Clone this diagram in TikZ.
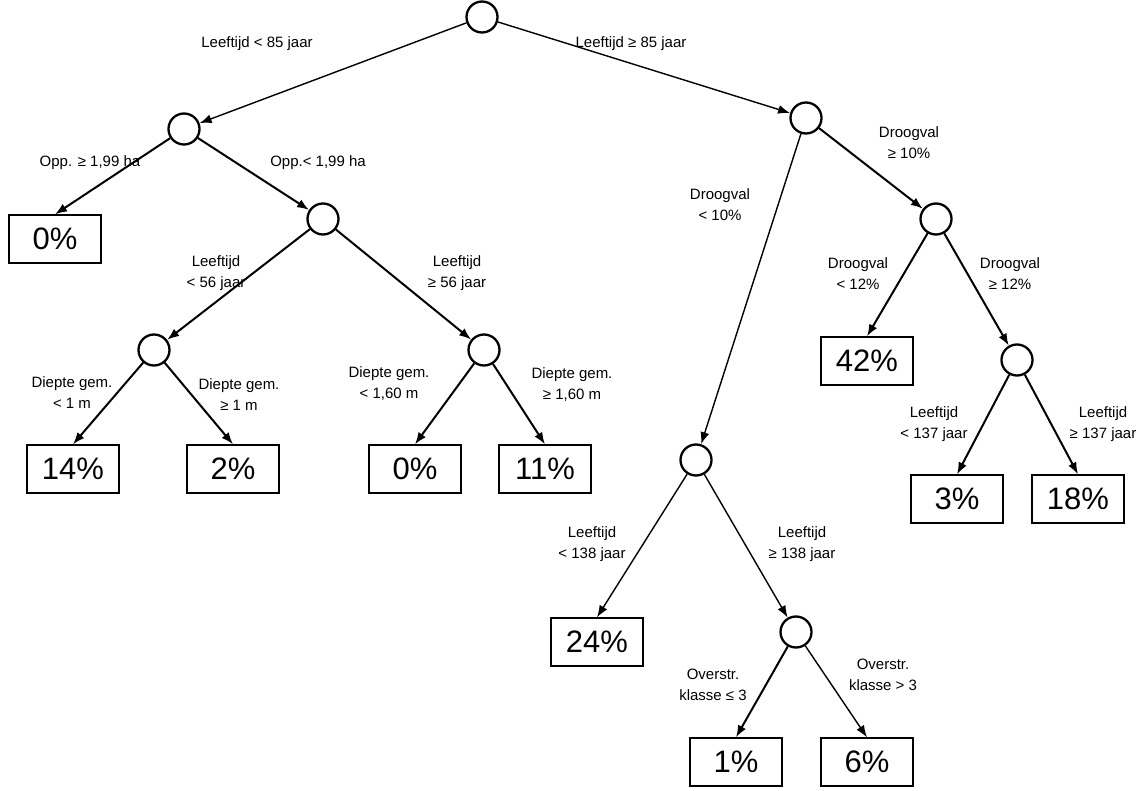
\documentclass[tikz,border=0pt]{standalone}
\usepackage{fontspec}
\setmainfont{Liberation Sans}
\usetikzlibrary{arrows.meta, positioning, shapes}

\tikzset{
    split/.style={circle, draw, line width=2.3pt, minimum size=31pt, inner sep=0pt},
    leaf/.style={draw, line width=1.3pt, minimum width=92pt, minimum height=48pt, inner sep=0pt, font=\fontsize{31}{34}\selectfont},
    cond/.style={align=center, inner sep=0pt, font=\fontsize{15}{21}\selectfont},
    edge/.style={-{Latex[length=12pt, width=9pt]}, line width=2pt},
    thinedge/.style={-{Latex[length=12pt, width=9pt]}, line width=1.4pt}
}

\begin{document}
\begin{tikzpicture}[x=1pt, y=-1pt]
                \useasboundingbox (0,0) rectangle (1146,791);

                % beslisknopen
                \node[split] (root) at (482, 17) {};
                \node[split] (oppknoop) at (184, 129) {};
                \node[split] (leefA) at (323, 219) {};
                \node[split] (diepA) at (154, 350) {};
                \node[split] (diepB) at (484, 350) {};
                \node[split] (droogA) at (806, 118) {};
                \node[split] (droogB) at (936, 219) {};
                \node[split] (leefC) at (1017, 360) {};
                \node[split] (leefB) at (696, 460) {};
                \node[split] (overstr) at (796, 632) {};

                % eindbladen
                \node[leaf] (pctA) at (55, 239) {0\%};
                \node[leaf] (pctB) at (73, 469) {14\%};
                \node[leaf] (pctC) at (233, 469) {2\%};
                \node[leaf] (pctD) at (415, 469) {0\%};
                \node[leaf] (pctE) at (545, 469) {11\%};
                \node[leaf] (pctF) at (867, 361) {42\%};
                \node[leaf] (pctG) at (957, 499) {3\%};
                \node[leaf] (pctH) at (1078, 499) {18\%};
                \node[leaf] (pctI) at (597, 642) {24\%};
                \node[leaf] (pctJ) at (736, 762) {1\%};
                \node[leaf] (pctK) at (867, 762) {6\%};

                % takken
                \draw [thinedge] (root) -- (oppknoop);
                \draw [thinedge] (root) -- (droogA);
                \draw [edge] (oppknoop) -- (pctA.north);
                \draw [edge] (oppknoop) -- (leefA);
                \draw [edge] (leefA) -- (diepA);
                \draw [edge] (leefA) -- (diepB);
                \draw [edge] (diepA) -- (pctB.north);
                \draw [edge] (diepA) -- (pctC.north);
                \draw [edge] (diepB) -- (pctD.north);
                \draw [edge] (diepB) -- (pctE.north);
                \draw [thinedge] (droogA) -- (leefB);
                \draw [edge] (droogA) -- (droogB);
                \draw [edge] (droogB) -- (pctF.north);
                \draw [edge] (droogB) -- (leefC);
                \draw [edge] (leefC) -- (pctG.north);
                \draw [edge] (leefC) -- (pctH.north);
                \draw [thinedge] (leefB) -- (pctI.north);
                \draw [thinedge] (leefB) -- (overstr);
                \draw [edge] (overstr) -- (pctJ.north);
                \draw [thinedge] (overstr) -- (pctK.north);

                % voorwaarden
                \node[cond] (lblA) at (257, 44) {Leeftijd < 85 jaar};
                \node[cond] (lblB) at (631, 44) {Leeftijd ≥ 85 jaar};
                \node[cond] (lblC) at (90, 163) {Opp. ≥ 1,99 ha};
                \node[cond] (lblD) at (318, 163) {Opp.< 1,99 ha};
                \node[cond] (lblE) at (216, 273) {Leeftijd\\< 56 jaar};
                \node[cond] (lblF) at (457, 273) {Leeftijd\\≥ 56 jaar};
                \node[cond] (lblG) at (72, 393) {Diepte gem.\\< 1 m};
                \node[cond] (lblH) at (239, 395) {Diepte gem.\\≥ 1 m};
                \node[cond] (lblI) at (389, 384) {Diepte gem.\\< 1,60 m};
                \node[cond] (lblJ) at (572, 385) {Diepte gem.\\≥ 1,60 m};
                \node[cond] (lblK) at (720, 205) {Droogval\\< 10\%};
                \node[cond] (lblL) at (909, 143) {Droogval\\≥ 10\%};
                \node[cond] (lblM) at (858, 274) {Droogval\\< 12\%};
                \node[cond] (lblN) at (1010, 274) {Droogval\\≥ 12\%};
                \node[cond] (lblO) at (934, 424) {Leeftijd\\< 137 jaar};
                \node[cond] (lblP) at (1103, 424) {Leeftijd\\≥ 137 jaar};
                \node[cond] (lblQ) at (592, 544) {Leeftijd\\< 138 jaar};
                \node[cond] (lblR) at (802, 544) {Leeftijd\\≥ 138 jaar};
                \node[cond] (lblS) at (713, 685) {Overstr.\\klasse ≤ 3};
                \node[cond] (lblT) at (883, 675) {Overstr.\\klasse > 3};

            \end{tikzpicture}
\end{document}
